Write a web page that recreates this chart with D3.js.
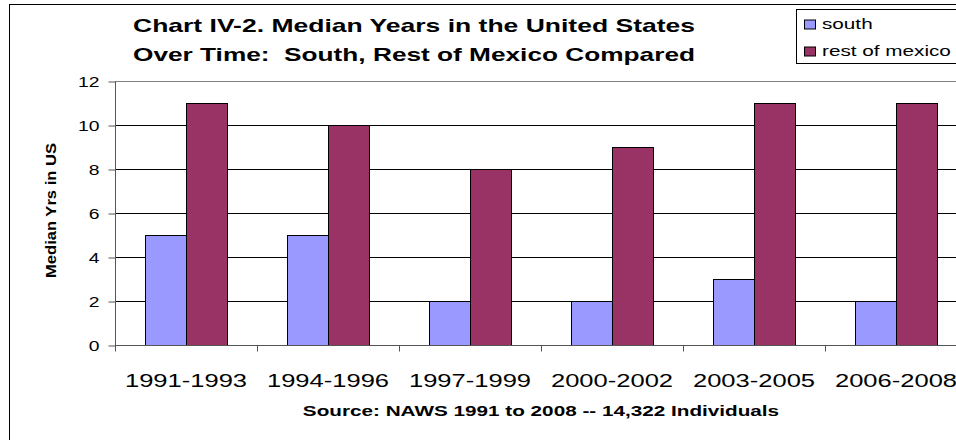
<!DOCTYPE html>
<html>
<head>
<meta charset="utf-8">
<script src="https://cdn.jsdelivr.net/npm/d3@7"></script>
<style>
  body { margin: 0; background: #fff; }
  text { font-family: "Liberation Sans", Arial, sans-serif; fill: #000; }
</style>
</head>
<body>
<svg width="956" height="440"></svg>
<script>
// chart data
var categories = ["1991-1993", "1994-1996", "1997-1999", "2000-2002", "2003-2005", "2006-2008"];
var seriesNames = ["south", "rest of mexico"];
var southValues = [5, 5, 2, 2, 3, 2];
var restValues = [11, 10, 8, 9, 11, 11];
var yTicks = [0, 2, 4, 6, 8, 10, 12];
var titleLines = ["Chart IV-2. Median Years in the United States", "Over Time:  South, Rest of Mexico Compared"];
var yTitle = "Median Yrs in US";
var xTitle = "Source: NAWS 1991 to 2008 -- 14,322 Individuals";

var colors = { "south": "#9999ff", "rest of mexico": "#993366" };
var K = 1.38; // the original picture is wide-stretched, so is the text

// widen a text by factor k
function stretch(sel, k) {
    sel.each(function () {
        var w = this.getComputedTextLength();
        d3.select(this).attr("textLength", w * k).attr("lengthAdjust", "spacingAndGlyphs");
    });
}

function main() {
    var svg = d3.select("svg");

    var rows = categories.map(function (c, i) {
        return { cat: c, values: [
            { name: "south", value: southValues[i] },
            { name: "rest of mexico", value: restValues[i] }
        ] };
    });

    var xScale = d3.scaleBand().domain(categories).range([115, 967]).padding(0);
    var xSub = d3.scaleBand().domain(seriesNames).range([0, xScale.bandwidth()])
        .paddingInner(0).paddingOuter(0.73);
    var yScale = d3.scaleLinear().domain([0, 12]).range([345.5, 81.5]);

    // outer chart border (runs off the right and bottom edges)
    svg.append("rect")
        .attr("x", 9.5).attr("y", 4.5)
        .attr("width", 1000).attr("height", 500)
        .attr("fill", "none").attr("stroke", "#000");

    // gridlines
    svg.append("g").selectAll("line")
        .data(yTicks.filter(function (d) { return d > 0; }))
        .enter().append("line")
        .attr("x1", 115).attr("x2", 967)
        .attr("y1", function (d) { return yScale(d); })
        .attr("y2", function (d) { return yScale(d); })
        .attr("stroke", function (d) { return d === 12 ? "#808080" : "#000"; })
        .attr("stroke-width", 1);

    // bars
    var groups = svg.append("g").selectAll("g")
        .data(rows).enter().append("g")
        .attr("transform", function (d) { return "translate(" + xScale(d.cat) + ",0)"; });

    groups.selectAll("rect")
        .data(function (d) { return d.values; })
        .enter().append("rect")
        .attr("x", function (d) { return Math.round(xSub(d.name)) + 0.5; })
        .attr("y", function (d) { return yScale(d.value); })
        .attr("width", Math.round(xSub.bandwidth()))
        .attr("height", function (d) { return yScale(0) - yScale(d.value); })
        .attr("fill", function (d) { return colors[d.name]; })
        .attr("stroke", "#000")
        .attr("stroke-width", 1);

    // y axis
    var yAxis = svg.append("g")
        .attr("transform", "translate(115.5,0)")
        .call(d3.axisLeft(yScale).tickValues(yTicks).tickSize(7).tickPadding(9).tickFormat(d3.format("d")));
    yAxis.select(".domain").attr("stroke", "#555").attr("d", "M0," + yScale(12) + "V" + yScale(0));
    yAxis.selectAll(".tick line").attr("stroke", "#555");
    yAxis.selectAll("text")
        .attr("font-family", "Liberation Sans, Arial, sans-serif")
        .attr("font-size", "14px")
        .attr("fill", "#000")
        .attr("dy", "0.36em")
        .call(stretch, K);

    // x axis: ticks at category boundaries, labels centred
    var xAxisG = svg.append("g").attr("transform", "translate(0," + yScale(0) + ")");
    xAxisG.append("line")
        .attr("x1", 115).attr("x2", 967)
        .attr("y1", 0).attr("y2", 0)
        .attr("stroke", "#555");
    xAxisG.selectAll(".xtick")
        .data(categories).enter().append("line")
        .attr("class", "xtick")
        .attr("x1", function (d) { return xScale(d) + 0.5; })
        .attr("x2", function (d) { return xScale(d) + 0.5; })
        .attr("y1", 0).attr("y2", 6)
        .attr("stroke", "#555");
    xAxisG.selectAll(".xlabel")
        .data(categories).enter().append("text")
        .attr("class", "xlabel")
        .attr("x", function (d) { return xScale(d) + xScale.bandwidth() / 2; })
        .attr("y", 41.5)
        .attr("text-anchor", "middle")
        .attr("font-size", "18.5px")
        .text(function (d) { return d; })
        .call(stretch, K);

    // title
    svg.append("g").selectAll("text")
        .data(titleLines).enter().append("text")
        .attr("x", 414)
        .attr("y", function (d, i) { return 32 + i * 29; })
        .attr("text-anchor", "middle")
        .attr("font-size", "19px")
        .attr("font-weight", "bold")
        .style("white-space", "pre")
        .text(function (d) { return d; })
        .attr("textLength", 562)
        .attr("lengthAdjust", "spacingAndGlyphs");

    // y axis title
    svg.append("text")
        .attr("transform", "translate(55.5,210.5) rotate(-90)")
        .attr("text-anchor", "middle")
        .attr("font-size", "14px")
        .attr("font-weight", "bold")
        .text(yTitle)
        .attr("textLength", 135)
        .attr("lengthAdjust", "spacingAndGlyphs");

    // x axis title (source)
    svg.append("text")
        .attr("x", (xScale.range()[0] + xScale.range()[1]) / 2)
        .attr("y", 416)
        .attr("text-anchor", "middle")
        .attr("font-size", "15px")
        .attr("font-weight", "bold")
        .text(xTitle)
        .call(stretch, K);

    // legend
    var legend = svg.append("g").attr("transform", "translate(796.5,9.5)");
    legend.append("rect")
        .attr("width", 200).attr("height", 54)
        .attr("fill", "#fff").attr("stroke", "#000");
    var items = legend.selectAll(".item")
        .data(seriesNames).enter().append("g")
        .attr("class", "item")
        .attr("transform", function (d, i) { return "translate(8," + (10.5 + i * 27) + ")"; });
    items.append("rect")
        .attr("width", 11).attr("height", 9)
        .attr("fill", function (d) { return colors[d]; })
        .attr("stroke", "#000");
    items.append("text")
        .attr("x", 17.5)
        .attr("y", 9)
        .attr("font-size", "15px")
        .text(function (d) { return d; })
        .call(stretch, K);
}

main();
</script>
</body>
</html>
